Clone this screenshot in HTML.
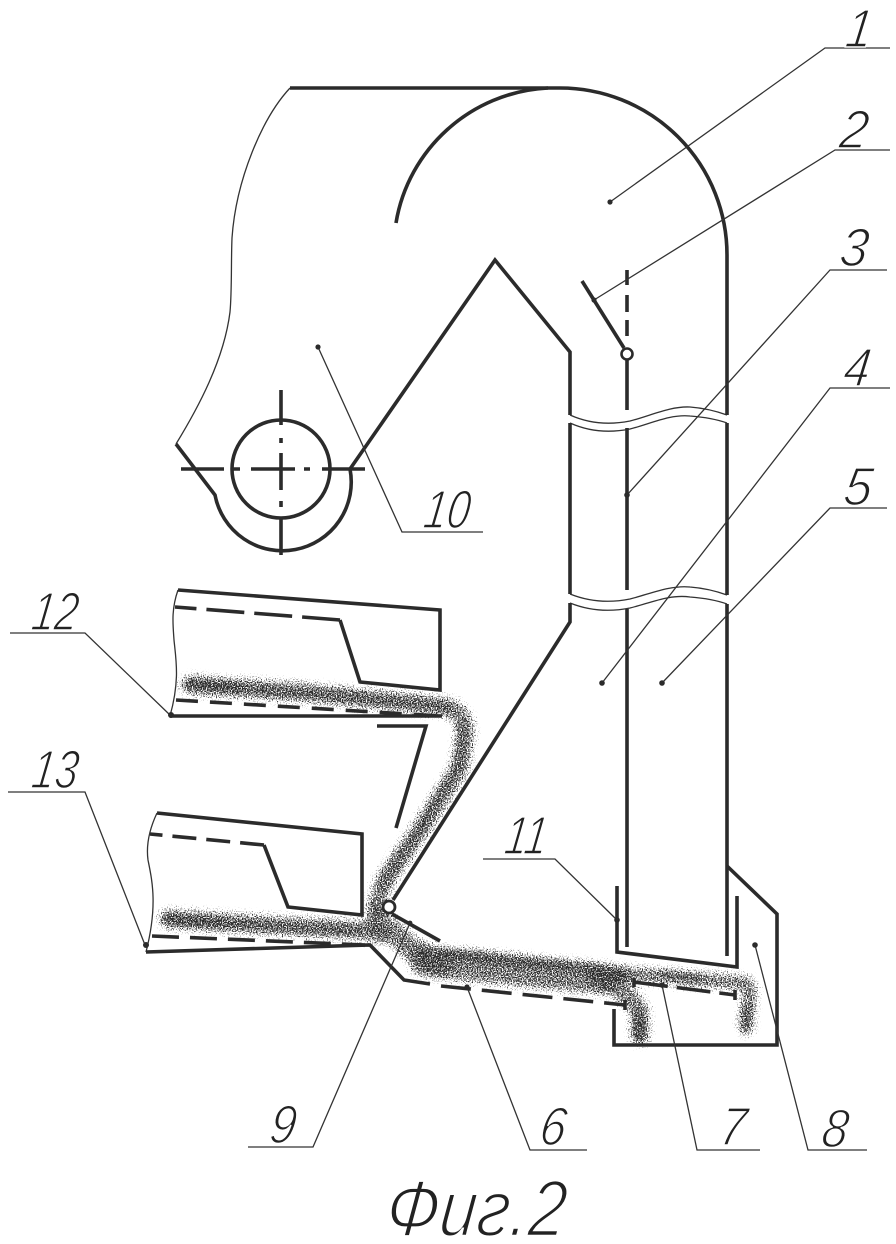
<!DOCTYPE html>
<html><head><meta charset="utf-8"><style>
html,body{margin:0;padding:0;background:#fff}
svg{display:block}
text{font-family:"Liberation Sans","DejaVu Sans",sans-serif;font-style:italic;fill:#222;stroke:#fff;stroke-width:1.5px}
</style></head><body>
<svg width="896" height="1244" viewBox="0 0 896 1244" xmlns="http://www.w3.org/2000/svg">
<defs>
<filter id="st" filterUnits="userSpaceOnUse" x="0" y="0" width="896" height="1244" color-interpolation-filters="sRGB">
<feGaussianBlur in="SourceGraphic" stdDeviation="4.5" result="b"/>
<feTurbulence type="fractalNoise" baseFrequency="0.8" numOctaves="2" seed="4" result="t"/>
<feColorMatrix in="t" type="matrix" values="0 0 0 0 0 0 0 0 0 0 0 0 0 0 0 2.2 0 0 0 -0.6" result="n"/>
<feComposite in="b" in2="n" operator="arithmetic" k1="0" k2="0.95" k3="1" k4="-1.05" result="c"/>
<feComponentTransfer in="c" result="d"><feFuncA type="linear" slope="3" intercept="0"/></feComponentTransfer>
<feFlood flood-color="#2a2a2a"/><feComposite in2="d" operator="in"/>
</filter>
</defs>
<rect width="896" height="1244" fill="#fff"/>

<!-- stippled material streams -->
<g filter="url(#st)" fill="none" stroke="#000" stroke-linecap="round" stroke-linejoin="round">
<g stroke-opacity="0.8">
<path stroke-width="22" d="M190 685 L300 692 L440 706 Q466 708 465 735 L460 768 L420 830 L385 880 L376 906"/>
<path stroke-width="22" d="M168 919 L280 926 L360 930 L378 934"/>
<path stroke-width="26" d="M378 918 L410 948 L440 962"/>
<path stroke-width="34" d="M425 962 L600 979"/>
<path stroke-width="22" d="M600 975 L632 1000 L640 1010 L640 1036"/>
<path stroke-width="18" d="M600 972 L745 983 Q751 985 749 1000 L746 1028"/>
<path stroke-width="12" d="M440 951 L610 969"/>
</g>
<g stroke-opacity="1">
<path stroke-width="11" d="M190 684 L240 688"/>
<path stroke-width="11" d="M168 919 L222 923"/>
<path stroke-width="6" d="M250 690 L400 702 L450 708"/>
<path stroke-width="6" d="M462 725 L458 765 L420 830 L382 885"/>
<path stroke-width="6" d="M230 924 L360 932"/>
<path stroke-width="9" d="M445 953 L500 958"/>
<path stroke-width="8" d="M510 960 L565 966"/>
<path stroke-width="15" d="M592 970 L622 974"/>
<path stroke-width="13" d="M638 1018 L640 1036"/>
<path stroke-width="9" d="M745 1008 L745 1026"/>
<path stroke-width="7" d="M660 972 L700 978"/>
</g>
</g>

<!-- thin outlines -->
<g fill="none" stroke="#333" stroke-width="1.3">
<path d="M290 88 C262 118 236 180 232 238 C231 262 232 290 230 312 C224 360 198 408 176 444"/>
<path d="M178 590 C171 610 173 625 174 640 C176 660 180 680 170 716"/>
<path d="M157 813 C149 830 146 845 148 860 C152 880 158 905 146 952"/>
<path d="M570 415 C590 424 610 425 630 421 C650 416 670 406 690 407 C703 408 716 411 727 415"/>
<path d="M570 423 C590 432 610 433 630 429 C650 424 670 414 690 416 C703 417 716 419 727 423"/>
<path d="M570 594 C590 602 610 603 630 599 C650 594 670 585 690 587 C703 588 716 591 727 595"/>
<path d="M570 603 C590 611 610 612 630 608 C650 603 670 594 690 597 C703 598 716 600 727 604"/>
</g>

<!-- thick structure -->
<g fill="none" stroke="#2b2b2b" stroke-width="3.6" stroke-linejoin="miter" stroke-linecap="butt">
<path d="M290 88 H560 A167 167 0 0 1 727 255 V415"/>
<path d="M396 223 C408 150 470 92 548 88"/>
<path d="M727 423 V595"/>
<path d="M727 604 V956"/>
<path d="M176 444 L215 495 A68 68 0 1 0 350 469 L495 260 L570 352 V415"/>
<path d="M570 423 V594"/>
<path d="M570 603 V622 L393 900"/>
<circle cx="281" cy="469" r="49"/>
<path d="M281 390 V425 M281 438 V443 M281 453 V490 M281 501 V507 M281 518 V555"/>
<path d="M181 469 H224 M232 469 H240 M251 469 H295 M304 469 H310 M322 469 H365"/>
<!-- flap 2 and partition -->
<path d="M582 281 L624 348"/>
<path d="M627 270 V285 M627 295 V312 M627 320 V336 M627 360 V410 M627 428 V590 M627 609 V947"/>
<circle cx="627" cy="354" r="5.5" stroke-width="2.6" fill="#fff"/>
<!-- chute 12 -->
<path d="M178 590 L440 610 V690 L360 682 L340 620"/>
<path stroke-dasharray="38 10" d="M340 620 L175 607"/>
<path d="M170 716 H442"/>
<path stroke-dasharray="22 12" d="M176 700 L440 716"/>
<path d="M377 726 H426 L396 828"/>
<!-- chute 13 -->
<path d="M157 813 L362 834 V915 L288 907 L264 845"/>
<path stroke-dasharray="24 10" d="M264 845 L150 834"/>
<path d="M146 952 L370 945 L404 980 L430 984"/>
<path stroke-dasharray="27 11" d="M152 936 L365 945"/>
<path stroke-dasharray="30 11" d="M441 986 L625 1005"/>
<path d="M625 1000 V1010"/>
<!-- lower flap and pivot -->
<path d="M392 914 L440 941"/>
<circle cx="389" cy="907" r="6" stroke-width="2.8" fill="#fff"/>
<!-- trough -->
<path d="M617 886 V952 L737 967 V896"/>
<path d="M727 866 L777 914 V1045 H614 V1009"/>
<path stroke-dasharray="34 9" d="M634 982 L735 995"/>
<path d="M634 978 V987 M735 990 V1000"/>
</g>

<!-- leaders -->
<g fill="none" stroke="#333" stroke-width="1.3">
<path d="M610 202 L825 48 H890"/>
<path d="M594 300 L835 150 H890"/>
<path d="M627 495 L830 270 H887"/>
<path d="M602 683 L830 388 H890"/>
<path d="M662 683 L830 508 H887"/>
<path d="M318 347 L402 532 H483"/>
<path d="M617 920 L555 859 H483"/>
<path d="M170 715 L85 633 H10"/>
<path d="M145 945 L85 792 H8"/>
<path d="M410 923 L313 1147 H248"/>
<path d="M467 987 L530 1150 H587"/>
<path d="M662 985 L697 1150 H760"/>
<path d="M755 945 L808 1150 H867"/>
</g>
<g fill="#2b2b2b">
<circle cx="610" cy="202" r="2.6"/><circle cx="594" cy="300" r="2.6"/><circle cx="627" cy="495" r="2.8"/>
<circle cx="602" cy="683" r="2.8"/><circle cx="662" cy="683" r="2.8"/><circle cx="318" cy="347" r="2.6"/>
<circle cx="617" cy="920" r="2.8"/><circle cx="171" cy="715" r="3"/><circle cx="146" cy="945" r="3"/>
<circle cx="410" cy="923" r="2.4"/><circle cx="467" cy="987" r="2.6"/><circle cx="662" cy="985" r="2.6"/><circle cx="755" cy="945" r="2.8"/>
</g>

<!-- labels -->
<g font-size="54" font-weight="400">
<text transform="translate(844 47) skewX(-8)" textLength="26" lengthAdjust="spacingAndGlyphs">1</text>
<text transform="translate(838 148) skewX(-8)" textLength="28" lengthAdjust="spacingAndGlyphs">2</text>
<text transform="translate(838 266) skewX(-8)" textLength="28" lengthAdjust="spacingAndGlyphs">3</text>
<text transform="translate(842 386) skewX(-8)" textLength="26" lengthAdjust="spacingAndGlyphs">4</text>
<text transform="translate(842 505) skewX(-8)" textLength="28" lengthAdjust="spacingAndGlyphs">5</text>
<text transform="translate(422 528) skewX(-8)" textLength="46" lengthAdjust="spacingAndGlyphs">10</text>
<text transform="translate(503 854) skewX(-8)" textLength="42" lengthAdjust="spacingAndGlyphs">11</text>
<text transform="translate(30 630) skewX(-8)" textLength="46" lengthAdjust="spacingAndGlyphs">12</text>
<text transform="translate(30 788) skewX(-8)" textLength="46" lengthAdjust="spacingAndGlyphs">13</text>
<text transform="translate(268 1143) skewX(-8)" textLength="26" lengthAdjust="spacingAndGlyphs">9</text>
<text transform="translate(538 1145) skewX(-8)" textLength="26" lengthAdjust="spacingAndGlyphs">6</text>
<text transform="translate(718 1145) skewX(-8)" textLength="26" lengthAdjust="spacingAndGlyphs">7</text>
<text transform="translate(820 1147) skewX(-8)" textLength="26" lengthAdjust="spacingAndGlyphs">8</text>
<text transform="translate(384 1236) skewX(-6)" font-size="80" textLength="180" lengthAdjust="spacingAndGlyphs" style="stroke-width:2.5px">Фиг.2</text>
</g>
</svg>
</body></html>
